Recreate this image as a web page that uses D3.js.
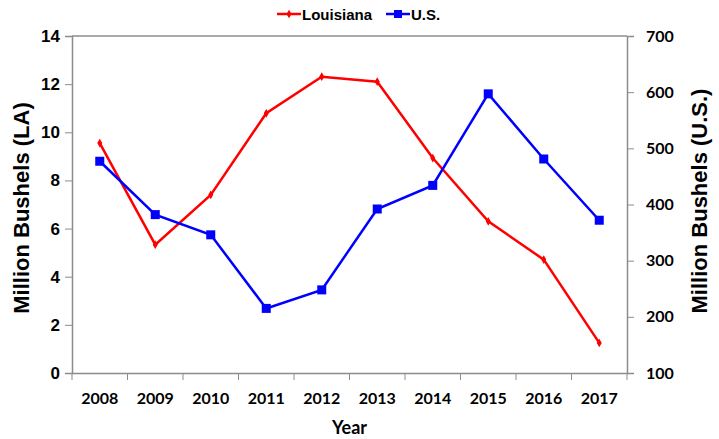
<!DOCTYPE html>
<html>
<head>
<meta charset="utf-8">
<script src="https://cdn.jsdelivr.net/npm/d3@7"></script>
<style>
  body { margin: 0; background: #fff; }
  svg { display: block; }
  .arial { font-family: "Liberation Sans", Arial, sans-serif; font-weight: bold; }
  .calib { font-family: Lato, "Open Sans", sans-serif; font-weight: bold; }
</style>
</head>
<body>
<div id="chart"></div>
<script>
var years = ["2008", "2009", "2010", "2011", "2012", "2013", "2014", "2015", "2016", "2017"];
var louisiana = [9.55, 5.33, 7.4, 10.79, 12.31, 12.1, 8.93, 6.3, 4.71, 1.25];
var us = [477, 382, 346, 215, 248, 392, 434, 597, 481, 372];
var leftTicks = [0, 2, 4, 6, 8, 10, 12, 14];
var rightTicks = [100, 200, 300, 400, 500, 600, 700];

var W = 719, H = 439;
var margin = {top: 36, right: 92, bottom: 66, left: 72};
var width = W - margin.left - margin.right;
var height = H - margin.top - margin.bottom;
var axisColor = "#8c8c8c";

var svg = d3.select("#chart").append("svg")
  .attr("width", W)
  .attr("height", H);

var g = svg.append("g")
  .attr("transform", "translate(" + margin.left + "," + margin.top + ")");

var x = d3.scaleBand().domain(years).range([0, width]);
var yL = d3.scaleLinear().domain([0, 14]).range([height, 0]);
var yR = d3.scaleLinear().domain([100, 700]).range([height, 0]);

// frame (top edge)
g.append("line")
  .attr("x1", 0).attr("x2", width)
  .attr("y1", 0).attr("y2", 0)
  .attr("stroke", axisColor).attr("stroke-width", 1.5);

// left axis
var axL = g.append("g")
  .attr("class", "arial")
  .call(d3.axisLeft(yL).tickValues(leftTicks).tickSize(7).tickPadding(5));
axL.selectAll("text").style("font-size", "17px").attr("fill", "#000");

// right axis
var axR = g.append("g")
  .attr("class", "calib")
  .attr("transform", "translate(" + width + ",0)")
  .call(d3.axisRight(yR).tickValues(rightTicks).tickSize(7).tickPadding(12));
axR.selectAll("text").style("font-size", "16px").attr("fill", "#000");

// bottom axis: ticks at category boundaries
var axB = g.append("g")
  .attr("class", "calib")
  .attr("transform", "translate(0," + height + ")")
  .call(d3.axisBottom(x).tickSize(0).tickPadding(20));
axB.selectAll("text").style("font-size", "16px").attr("fill", "#000");
axB.selectAll(".bound")
  .data(d3.range(years.length + 1))
  .enter().append("line")
  .attr("class", "bound")
  .attr("x1", function(i) { return i * x.step(); })
  .attr("x2", function(i) { return i * x.step(); })
  .attr("y1", 0).attr("y2", 7)
  .attr("stroke", axisColor);

[axL, axR, axB].forEach(function(a) {
  a.select(".domain").attr("stroke", axisColor).attr("stroke-width", 1.5);
  a.selectAll(".tick line").attr("stroke", axisColor);
});

// axis titles
svg.append("text")
  .attr("class", "arial")
  .attr("transform", "translate(21,208) rotate(-90)")
  .attr("text-anchor", "middle")
  .attr("dominant-baseline", "central")
  .style("font-size", "22px")
  .text("Million Bushels (LA)");

svg.append("text")
  .attr("class", "arial")
  .attr("transform", "translate(699,201) rotate(-90)")
  .attr("text-anchor", "middle")
  .attr("dominant-baseline", "central")
  .style("font-size", "22px")
  .text("Million Bushels (U.S.)");

svg.append("text")
  .attr("class", "calib")
  .attr("x", margin.left + width / 2)
  .attr("y", 427)
  .attr("text-anchor", "middle")
  .attr("dominant-baseline", "central")
  .style("font-size", "18px")
  .text("Year");

// lines
var cx = function(d, i) { return x(years[i]) + x.bandwidth() / 2; };

var lineL = d3.line().x(cx).y(function(d) { return yL(d); });
var lineR = d3.line().x(cx).y(function(d) { return yR(d); });

g.append("path")
  .datum(louisiana)
  .attr("d", lineL)
  .attr("fill", "none")
  .attr("stroke", "#ff0000")
  .attr("stroke-width", 2.5);

g.selectAll(".ptL")
  .data(louisiana)
  .enter().append("path")
  .attr("class", "ptL")
  .attr("transform", function(d, i) { return "translate(" + cx(d, i) + "," + yL(d) + ")"; })
  .attr("d", d3.symbol(d3.symbolDiamond, 22))
  .attr("fill", "#ff0000");

g.append("path")
  .datum(us)
  .attr("d", lineR)
  .attr("fill", "none")
  .attr("stroke", "#0000ff")
  .attr("stroke-width", 2.5);

g.selectAll(".ptR")
  .data(us)
  .enter().append("rect")
  .attr("class", "ptR")
  .attr("x", function(d, i) { return cx(d, i) - 4.5; })
  .attr("y", function(d) { return yR(d) - 4.5; })
  .attr("width", 9)
  .attr("height", 9)
  .attr("fill", "#0000ff");

// legend
var legend = svg.append("g").attr("class", "arial");
var items = [
  {name: "Louisiana", color: "#ff0000", x: 277, type: "diamond"},
  {name: "U.S.", color: "#0000ff", x: 386, type: "square"}
];
var li = legend.selectAll(".li")
  .data(items)
  .enter().append("g")
  .attr("transform", function(d) { return "translate(" + d.x + ",14)"; });
li.append("line")
  .attr("x1", 0).attr("x2", 24)
  .attr("stroke", function(d) { return d.color; })
  .attr("stroke-width", 2.5);
li.append("path")
  .attr("transform", "translate(12,0)")
  .attr("d", function(d) {
    return d.type === "diamond" ? d3.symbol(d3.symbolDiamond, 22)() : d3.symbol(d3.symbolSquare, 64)();
  })
  .attr("fill", function(d) { return d.color; });
li.append("text")
  .attr("x", 25)
  .attr("dominant-baseline", "central")
  .style("font-size", "15px")
  .text(function(d) { return d.name; });
</script>
</body>
</html>
